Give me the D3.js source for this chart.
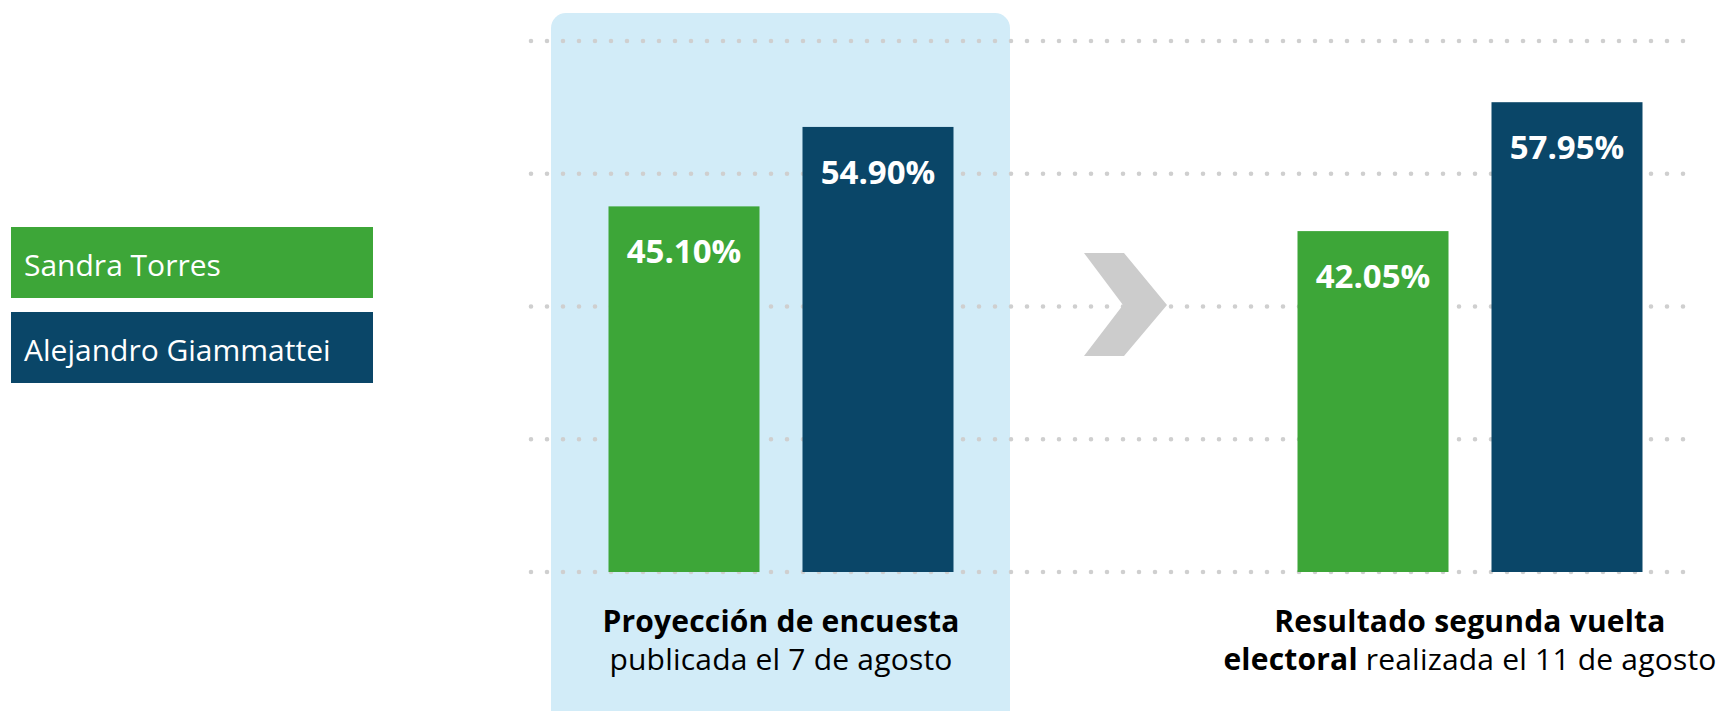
<!DOCTYPE html>
<html>
<head>
<meta charset="utf-8">
<script src="https://cdn.jsdelivr.net/npm/d3@7"></script>
<style>
  html, body { margin: 0; padding: 0; background: #fff; }
  svg { display: block; font-family: "Open Sans", Lato, sans-serif; }
</style>
</head>
<body>
<svg id="viz" width="1725" height="711"></svg>
<script>
// data
const groups = ["encuesta", "resultado"];
const series = ["Sandra Torres", "Alejandro Giammattei"];
const seriesColors = ["#3da638", "#0a4668"];
const encuestaValues = [45.10, 54.90];
const resultadoValues = [42.05, 57.95];
const gridTicks = [0, 16.375, 32.75, 49.125, 65.5];
const groupLabels = [
  [[{ t: "Proyección de encuesta", b: true }], [{ t: "publicada el 7 de agosto", b: false }]],
  [[{ t: "Resultado segunda vuelta", b: true }], [{ t: "electoral", b: true }, { t: " realizada el 11 de agosto", b: false }]]
];

const svg = d3.select("#viz");

const x0 = d3.scalePoint().domain(groups).range([781, 1470]);
const x1 = d3.scaleBand().domain(series).range([-172.5, 172.5]).paddingInner(0.2216);
const y = d3.scaleLinear().domain([0, 65.5]).range([572, 41]);
const color = d3.scaleOrdinal().domain(series).range(seriesColors);

// highlight panel behind the poll group
svg.append("rect")
  .attr("x", 551).attr("y", 13)
  .attr("width", 459).attr("height", 740)
  .attr("rx", 15)
  .attr("fill", "#d2ecf8");

// dotted gridlines
svg.append("g").selectAll("line")
  .data(gridTicks)
  .join("line")
  .attr("x1", 531).attr("x2", 1695)
  .attr("y1", d => y(d)).attr("y2", d => y(d))
  .attr("stroke", "#cfcfcf")
  .attr("stroke-width", 4.6)
  .attr("stroke-linecap", "round")
  .attr("stroke-dasharray", "0 16");

// chevron between the groups
svg.append("path")
  .attr("d", "M1084,253 L1124,253 L1167,305 L1124,356 L1084,356 L1123,305 Z")
  .attr("fill", "#cccccc");

// bars
const data = [encuestaValues, resultadoValues];
const gBars = svg.append("g");
groups.forEach((g, gi) => {
  const rows = series.map((s, si) => ({ s, v: data[gi][si] }));
  const gg = gBars.append("g").attr("transform", `translate(${x0(g)},0)`);
  gg.selectAll("rect")
    .data(rows)
    .join("rect")
    .attr("x", d => x1(d.s))
    .attr("y", d => y(d.v))
    .attr("width", x1.bandwidth())
    .attr("height", d => y(0) - y(d.v))
    .attr("fill", d => color(d.s));
  gg.selectAll("text")
    .data(rows)
    .join("text")
    .attr("x", d => x1(d.s) + x1.bandwidth() / 2)
    .attr("y", d => y(d.v) + 57)
    .attr("text-anchor", "middle")
    .attr("fill", "#fff")
    .attr("font-size", 33)
    .attr("font-weight", 700)
    .text(d => d.v.toFixed(2) + "%");
});

// group captions
groups.forEach((g, gi) => {
  const t = svg.append("text")
    .attr("text-anchor", "middle")
    .attr("fill", "#000")
    .attr("font-size", 30)
    .attr("letter-spacing", 0.2);
  groupLabels[gi].forEach((line, li) => {
    line.forEach((part, pi) => {
      const ts = t.append("tspan")
        .attr("font-weight", part.b ? 700 : 400)
        .text(part.t);
      if (pi === 0) ts.attr("x", x0(g)).attr("y", 632 + li * 38);
    });
  });
});

// legend
const legend = svg.append("g").attr("transform", "translate(11,227)");
const items = legend.selectAll("g")
  .data(series)
  .join("g")
  .attr("transform", (d, i) => `translate(0,${i * 85})`);
items.append("rect")
  .attr("width", 362).attr("height", 71)
  .attr("fill", d => color(d));
items.append("text")
  .attr("x", 13).attr("y", 49)
  .attr("fill", "#fff")
  .attr("font-size", 30)
  .text(d => d);
</script>
</body>
</html>
